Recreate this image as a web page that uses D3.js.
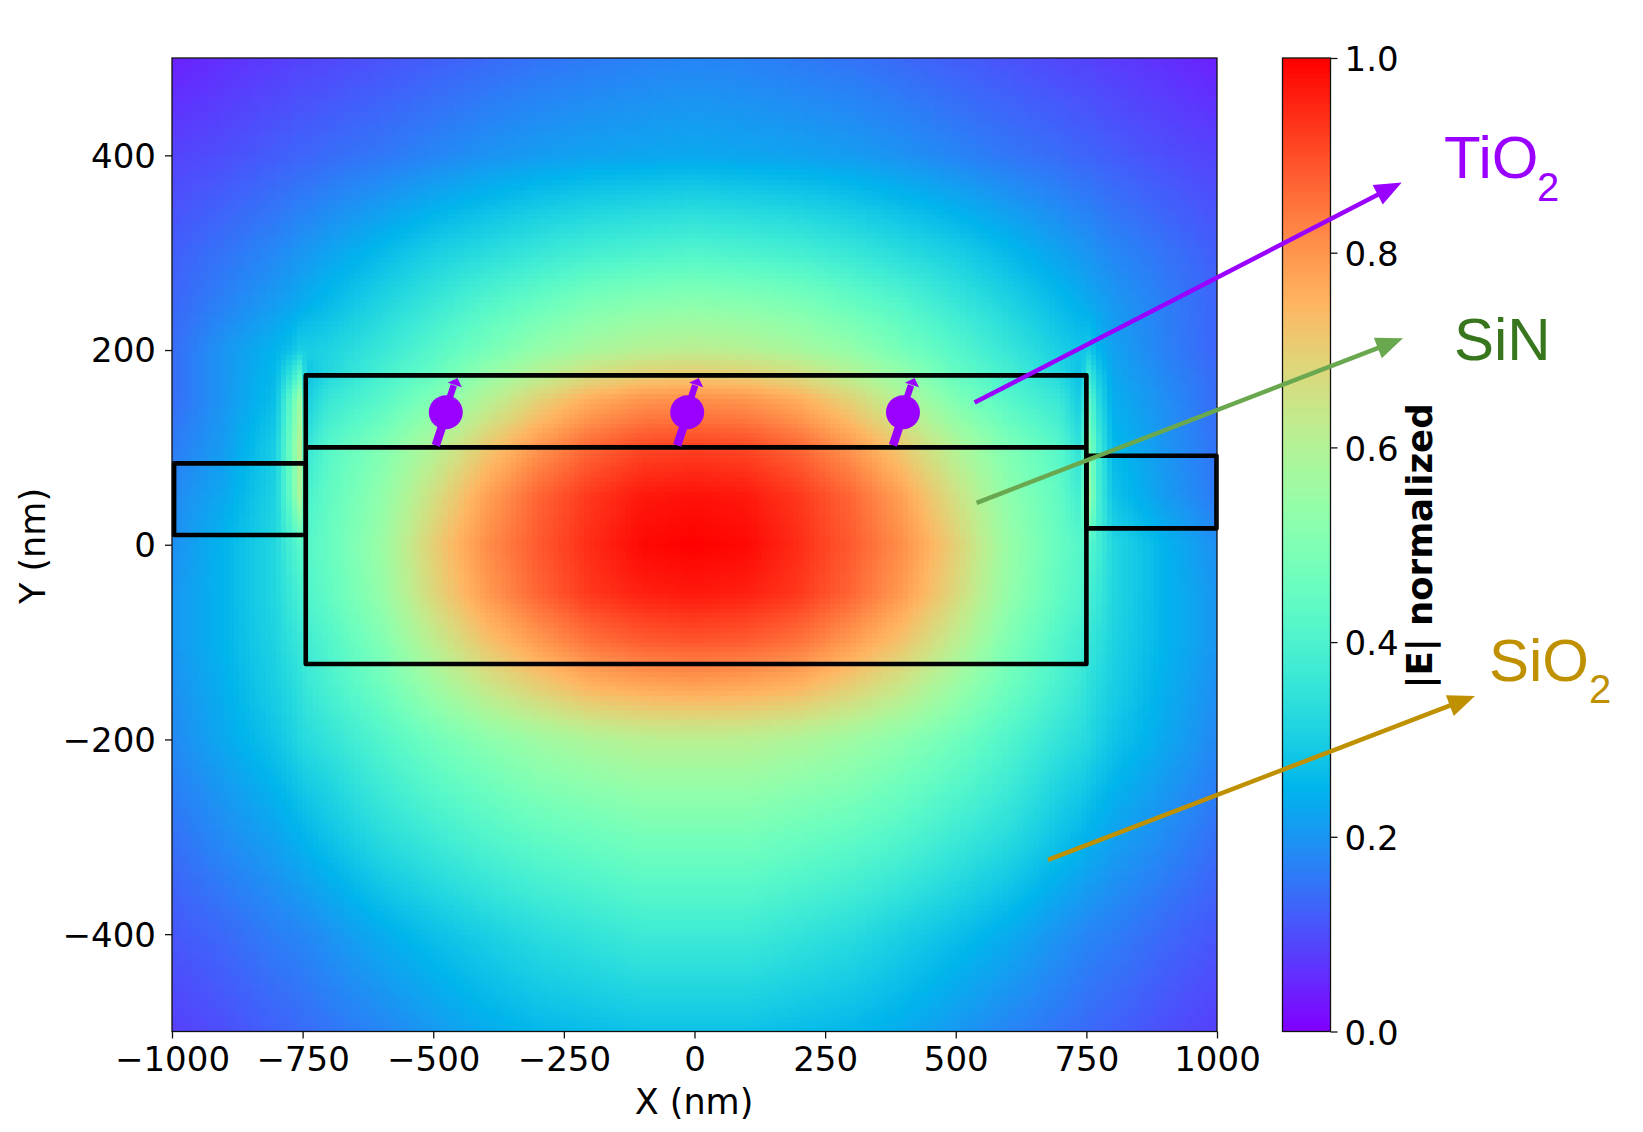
<!DOCTYPE html>
<html><head><meta charset="utf-8">
<script src="https://cdn.jsdelivr.net/npm/d3@7"></script>
<style>html,body{margin:0;padding:0;background:#fff}svg{display:block}</style>
</head><body><svg id="c" width="1643" height="1132"></svg>
<script>
const xTicks=[-1000,-750,-500,-250,0,250,500,750,1000];
const yTicks=[-400,-200,0,200,400];
const cbTicks=[0,0.2,0.4,0.6,0.8,1.0];
const xNodes=[-1000,-900,-800,-775,-755,-740,-700,-600,-500,-400,-300,-200,-100,0,100,200,300,400,500,600,700,740,755,775,800,900,1000];
const yNodes=[500,400,300,250,200,175,150,100,50,0,-50,-100,-150,-200,-250,-300,-400,-500];
const field=[
[.04,.06,.075,.08,.085,.085,.09,.105,.12,.135,.15,.16,.17,.175,.17,.16,.15,.135,.12,.105,.09,.085,.085,.08,.075,.06,.04],
[.085,.1,.12,.125,.13,.13,.14,.155,.175,.195,.21,.22,.225,.23,.225,.22,.21,.195,.175,.155,.14,.13,.13,.125,.12,.1,.085],
[.12,.15,.18,.19,.2,.205,.22,.26,.3,.33,.36,.385,.4,.41,.4,.385,.36,.33,.3,.26,.22,.205,.2,.19,.18,.15,.12],
[.13,.17,.21,.22,.23,.24,.26,.31,.36,.41,.45,.49,.51,.52,.51,.49,.45,.41,.36,.31,.26,.24,.23,.22,.205,.165,.13],
[.14,.2,.25,.27,.3,.3,.31,.36,.42,.48,.54,.58,.61,.62,.61,.58,.54,.48,.42,.36,.3,.28,.29,.25,.22,.17,.13],
[.14,.2,.26,.34,.42,.28,.32,.39,.45,.54,.61,.67,.7,.71,.7,.67,.61,.54,.45,.39,.32,.27,.37,.29,.23,.18,.14],
[.14,.2,.27,.41,.55,.3,.36,.42,.5,.6,.69,.76,.8,.81,.8,.76,.69,.6,.5,.42,.36,.29,.44,.32,.24,.19,.14],
[.16,.21,.3,.45,.6,.36,.42,.5,.6,.71,.8,.87,.91,.92,.91,.87,.8,.71,.6,.5,.42,.34,.52,.37,.26,.2,.15],
[.18,.23,.31,.43,.58,.4,.44,.53,.66,.78,.87,.93,.97,.98,.97,.93,.87,.78,.66,.53,.44,.38,.56,.38,.28,.21,.16],
[.19,.25,.32,.38,.42,.42,.45,.55,.7,.81,.885,.945,.99,1,.99,.945,.885,.81,.7,.55,.45,.42,.42,.38,.32,.25,.19],
[.2,.25,.32,.36,.39,.41,.44,.54,.68,.79,.87,.93,.96,.97,.96,.93,.87,.79,.68,.54,.44,.41,.39,.36,.32,.25,.2],
[.2,.25,.31,.34,.36,.38,.41,.5,.62,.72,.79,.85,.88,.89,.88,.85,.79,.72,.62,.5,.41,.38,.36,.34,.31,.25,.2],
[.19,.24,.3,.32,.34,.36,.39,.46,.55,.63,.69,.74,.76,.77,.76,.74,.69,.63,.55,.46,.39,.36,.34,.32,.3,.24,.19],
[.18,.23,.28,.3,.32,.33,.35,.41,.47,.52,.56,.59,.61,.61,.61,.59,.56,.52,.47,.41,.35,.33,.32,.3,.28,.23,.18],
[.165,.205,.25,.265,.28,.29,.31,.37,.42,.46,.5,.52,.54,.54,.54,.52,.5,.46,.42,.37,.31,.29,.28,.265,.25,.205,.165],
[.145,.185,.22,.235,.245,.255,.275,.33,.37,.41,.44,.46,.48,.48,.48,.46,.44,.41,.37,.33,.275,.255,.245,.235,.22,.185,.145],
[.11,.135,.165,.17,.175,.18,.195,.235,.27,.3,.33,.35,.37,.37,.37,.35,.33,.3,.27,.235,.195,.18,.175,.17,.165,.135,.11],
[.08,.1,.125,.13,.135,.14,.15,.175,.205,.235,.255,.265,.275,.275,.275,.265,.255,.235,.205,.175,.15,.14,.135,.13,.125,.1,.08]
];
const boxes=[
 {x0:-744,x1:750,y0:-122.5,y1:174},
 {x0:-996,x1:-744,y0:10,y1:83.6},
 {x0:750,x1:999,y0:16.8,y1:91.4}
];
const divider={x0:-744,x1:750,y:100};
const emitterX=[-476,-14,399];
const emitterY=136;
const labels=[
 {main:"TiO",sub:"2",color:"#9900ff",x:1444,y:178,sx:1537,sy:201},
 {main:"SiN",sub:"",color:"#38761d",x:1454,y:360,sx:0,sy:0},
 {main:"SiO",sub:"2",color:"#bf9000",x:1489,y:681,sx:1589,sy:703}
];
const pointers=[
 {x0:536,y0:146,x1:1353.5,y1:372.2,color:"#9900ff"},
 {x0:540,y0:43,x1:1356,y1:212,color:"#6aa84f"},
 {x0:676.6,y0:-323.8,x1:1493.8,y1:-155.3,color:"#bf9000"}
];

const L=172,R=1217,T=58,B=1031.5;
const svg=d3.select("#c");
const x=d3.scaleLinear().domain([-1000,1000]).range([L,R]);
const y=d3.scaleLinear().domain([-500,500]).range([B,T]);
const cbY=d3.scaleLinear().domain([0,1]).range([B,T]);
const rainbow=v=>{const r=Math.min(1,Math.abs(2*v-.5)),g=Math.sin(Math.PI*v),b=Math.cos(Math.PI*v/2);
 return d3.rgb(r*255,g*255,b*255).formatHex();};

// sample the read-off field on a 10 x 5 nm mesh
const nx=200,ny=200,dx=2000/nx,dy=1000/ny;
const colScale=d3.scaleLinear().domain(xNodes).range(xNodes.map((_,i)=>i));
const rowScale=d3.scaleLinear().domain(yNodes).range(yNodes.map((_,i)=>i));
function at(px,py){
 const a=colScale(px),b=rowScale(py);
 const i=Math.min(xNodes.length-2,Math.floor(a)),j=Math.min(yNodes.length-2,Math.floor(b));
 const u=a-i,w=b-j;
 return (field[j][i]*(1-u)+field[j][i+1]*u)*(1-w)+(field[j+1][i]*(1-u)+field[j+1][i+1]*u)*w;
}
const cells=[];
for(let i=0;i<nx;i++)for(let j=0;j<ny;j++)cells.push({x:-1000+i*dx,y:-500+j*dy});
svg.append("g").attr("shape-rendering","crispEdges").selectAll("rect").data(cells).join("rect")
 .attr("x",d=>Math.floor(x(d.x))).attr("y",d=>Math.floor(y(d.y+dy)))
 .attr("width",d=>Math.ceil(x(d.x+dx))-Math.floor(x(d.x)))
 .attr("height",d=>Math.ceil(y(d.y))-Math.floor(y(d.y+dy)))
 .attr("fill",d=>rainbow(at(d.x+dx/2,d.y+dy/2)));

// colorbar
const steps=d3.range(256);
const cbX0=1282.5,cbX1=1330.5;
svg.append("g").attr("shape-rendering","crispEdges").selectAll("rect").data(steps).join("rect")
 .attr("x",cbX0).attr("width",cbX1-cbX0)
 .attr("y",d=>Math.floor(cbY((d+1)/256))).attr("height",d=>Math.ceil(cbY(d/256))-Math.floor(cbY((d+1)/256)))
 .attr("fill",d=>rainbow(d/255));
svg.append("rect").attr("x",cbX0).attr("y",T).attr("width",cbX1-cbX0).attr("height",B-T).attr("fill","none").attr("stroke","#111").attr("stroke-width",1.3);

// structures
const g=svg.append("g").attr("fill","none").attr("stroke","#000").attr("stroke-width",4.6).attr("stroke-linejoin","round");
g.selectAll("rect").data(boxes).join("rect")
 .attr("x",d=>x(d.x0)).attr("y",d=>y(d.y1)).attr("width",d=>x(d.x1)-x(d.x0)).attr("height",d=>y(d.y0)-y(d.y1));
g.append("line").attr("x1",x(divider.x0)).attr("x2",x(divider.x1)).attr("y1",y(divider.y)).attr("y2",y(divider.y));

// emitters
const em=svg.append("g").selectAll("g").data(emitterX).join("g")
 .attr("transform",d=>`translate(${x(d)},${y(emitterY)})`).attr("fill","#9900ff").attr("stroke","none");
em.append("circle").attr("r",17);
em.append("line").attr("x1",-10).attr("y1",33).attr("x2",-1).attr("y2",6).attr("stroke","#9900ff").attr("stroke-width",8.5);
em.append("line").attr("x1",1).attr("y1",-6).attr("x2",8).attr("y2",-27).attr("stroke","#9900ff").attr("stroke-width",6.5);
em.append("path").attr("d","M11.6,-34.3 L2,-29.6 L16,-25 Z");

// frame and axes
svg.append("rect").attr("x",L).attr("y",T).attr("width",R-L).attr("height",B-T).attr("fill","none").attr("stroke","#111").attr("stroke-width",1.3);
const fs="34px";
function style(sel,shift){sel.select(".domain").remove();
 sel.selectAll("line").attr("stroke","#111").attr("stroke-width",1.3);
 sel.selectAll("text").attr("font-family","'DejaVu Sans'").attr("font-size",fs).attr("fill","#000").attr("transform",`translate(0,${shift})`);}
const minus=v=>String(v).replace("-","\u2212");
svg.append("g").attr("transform",`translate(0,${B})`)
 .call(d3.axisBottom(x).tickValues(xTicks).tickFormat(minus).tickSize(7).tickPadding(8)).call(style,0);
svg.append("g").attr("transform",`translate(${L},0)`)
 .call(d3.axisLeft(y).tickValues(yTicks).tickFormat(minus).tickSize(7).tickPadding(9)).call(style,1);
svg.append("g").attr("transform",`translate(${cbX1},0)`)
 .call(d3.axisRight(cbY).tickValues(cbTicks).tickFormat(d3.format(".1f")).tickSize(7).tickPadding(7)).call(style,2);
const tl=(t,px,py,rot,w,size)=>svg.append("text").text(t).attr("text-anchor","middle")
 .attr("transform",`translate(${px},${py})${rot?" rotate(-90)":""}`)
 .attr("font-family","'DejaVu Sans'").attr("font-size",size).attr("font-weight",w||"normal").attr("fill","#000");
tl("X (nm)",694,1114,false,"normal","35px");
tl("Y (nm)",45,546,true,"normal","35px");
tl("|E| normalized",1432,546,true,"bold","35.5px");

// pointers
const pg=svg.append("g").selectAll("g").data(pointers).join("g");
pg.each(function(d){
 const s=d3.select(this),ax=x(d.x0),ay=y(d.y0),bx=x(d.x1),by=y(d.y1);
 const a=Math.atan2(by-ay,bx-ax),len=27,wd=11;
 const c=Math.cos(a),n=Math.sin(a);
 s.append("line").attr("x1",ax).attr("y1",ay).attr("x2",bx-c*len*.8).attr("y2",by-n*len*.8).attr("stroke",d.color).attr("stroke-width",4.5);
 s.append("polygon").attr("fill",d.color).attr("points",[[bx,by],[bx-c*len-n*wd,by-n*len+c*wd],[bx-c*len+n*wd,by-n*len-c*wd]].join(" "));
});

// material labels
const lg=svg.append("g").attr("font-family","'Liberation Sans'").selectAll("g").data(labels).join("g").attr("fill",d=>d.color);
lg.append("text").text(d=>d.main).attr("x",d=>d.x).attr("y",d=>d.y).attr("font-size","60px");
lg.filter(d=>d.sub).append("text").text(d=>d.sub).attr("x",d=>d.sx).attr("y",d=>d.sy).attr("font-size","40px");
</script></body></html>
